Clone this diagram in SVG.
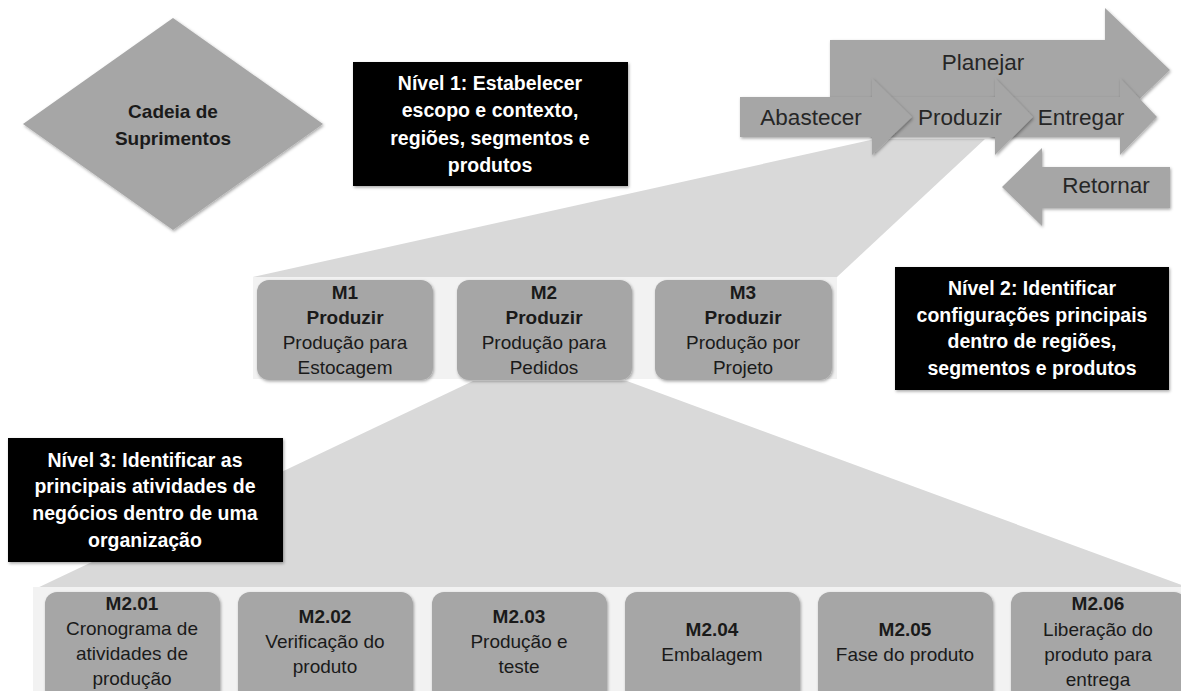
<svg xmlns="http://www.w3.org/2000/svg" width="1181" height="691" viewBox="0 0 1181 691">
<defs>
<filter id="sh" x="-10%" y="-10%" width="120%" height="130%">
<feDropShadow dx="1" dy="1.5" stdDeviation="1.5" flood-color="#000" flood-opacity="0.35"/>
</filter>
</defs>
<style>
.g{fill:#a6a6a6;filter:url(#sh)}
.blk{fill:#000;filter:url(#sh)}
.fun{fill:#d9d9d9}
.band{fill:#f2f2f2}
text{font-family:"Liberation Sans",Arial,sans-serif;text-anchor:middle}
.w{fill:#fff;font-weight:bold;font-size:19.5px}
.b{fill:#1a1a1a;font-weight:bold;font-size:19px}
.r{fill:#1a1a1a;font-size:19px}
.a{fill:#262626;font-size:22.5px}
</style>
<rect width="1181" height="691" fill="#fff"/>
<g id="connectors">
<polygon class="fun" points="875,139 985,139 837,277 253,277"/>
<polygon class="fun" points="473,381 627,381 1195,590 33,590"/>
</g>
<g id="band-level2"><rect class="band" x="253" y="277" width="584" height="102"/></g>
<g id="band-level3"><rect class="band" x="33" y="587" width="1160" height="110"/></g>
<g id="cadeia">
<polygon class="g" points="173,18 323,124 173,230 23,124"/>
<text class="b" x="173" y="118">Cadeia de</text>
<text class="b" x="173" y="145">Suprimentos</text>
</g>
<g id="nivel1">
<rect class="blk" x="353" y="62" width="275" height="124"/>
<text class="w" x="490" y="90">Nível 1: Estabelecer</text>
<text class="w" x="490" y="117">escopo e contexto,</text>
<text class="w" x="490" y="145">regiões, segmentos e</text>
<text class="w" x="490" y="172">produtos</text>
</g>
<g id="planejar">
<polygon class="g" points="830,40 1105,40 1105,8 1170,70 1105,132 1105,100 830,100"/>
<text class="a" x="983" y="70">Planejar</text>
</g>
<g id="entregar">
<polygon class="g" points="990,97 1120,97 1120,78 1157,117 1120,155 1120,137 990,137"/>
<text class="a" x="1081" y="125">Entregar</text>
</g>
<g id="produzir">
<polygon class="g" points="870,97 995,97 995,78 1033,117 995,155 995,137 870,137"/>
<text class="a" x="960" y="125">Produzir</text>
</g>
<g id="abastecer">
<polygon class="g" points="740,97 872,97 872,78 912,117 872,155 872,137 740,137"/>
<text class="a" x="811" y="125">Abastecer</text>
</g>
<g id="retornar">
<polygon class="g" points="1170,167 1042,167 1042,148 1002,187 1042,226 1042,208 1170,208"/>
<text class="a" x="1106" y="193">Retornar</text>
</g>
<g id="m1">
<rect class="g" x="257" y="280" width="176" height="100" rx="12"/>
<text class="b" x="345" y="299">M1</text>
<text class="b" x="345" y="324">Produzir</text>
<text class="r" x="345" y="349">Produção para</text>
<text class="r" x="345" y="374">Estocagem</text>
</g>
<g id="m2">
<rect class="g" x="457" y="280" width="175" height="100" rx="12"/>
<text class="b" x="544" y="299">M2</text>
<text class="b" x="544" y="324">Produzir</text>
<text class="r" x="544" y="349">Produção para</text>
<text class="r" x="544" y="374">Pedidos</text>
</g>
<g id="m3">
<rect class="g" x="655" y="280" width="177" height="100" rx="12"/>
<text class="b" x="743" y="299">M3</text>
<text class="b" x="743" y="324">Produzir</text>
<text class="r" x="743" y="349">Produção por</text>
<text class="r" x="743" y="374">Projeto</text>
</g>
<g id="nivel2">
<rect class="blk" x="895" y="267" width="274" height="123"/>
<text class="w" x="1032" y="295">Nível 2: Identificar</text>
<text class="w" x="1032" y="322">configurações principais</text>
<text class="w" x="1032" y="348">dentro de regiões,</text>
<text class="w" x="1032" y="375">segmentos e produtos</text>
</g>
<g id="nivel3">
<rect class="blk" x="8" y="438" width="275" height="124"/>
<text class="w" x="145" y="467">Nível 3: Identificar as</text>
<text class="w" x="145" y="493">principais atividades de</text>
<text class="w" x="145" y="520">negócios dentro de uma</text>
<text class="w" x="145" y="547">organização</text>
</g>
<g id="m201">
<rect class="g" x="45" y="592" width="175" height="110" rx="12"/>
<text class="b" x="132" y="610">M2.01</text>
<text class="r" x="132" y="635">Cronograma de</text>
<text class="r" x="132" y="660">atividades de</text>
<text class="r" x="132" y="685">produção</text>
</g>
<g id="m202">
<rect class="g" x="238" y="592" width="175" height="110" rx="12"/>
<text class="b" x="325" y="623">M2.02</text>
<text class="r" x="325" y="648">Verificação do</text>
<text class="r" x="325" y="673">produto</text>
</g>
<g id="m203">
<rect class="g" x="432" y="592" width="175" height="110" rx="12"/>
<text class="b" x="519" y="623">M2.03</text>
<text class="r" x="519" y="648">Produção e</text>
<text class="r" x="519" y="673">teste</text>
</g>
<g id="m204">
<rect class="g" x="625" y="592" width="175" height="110" rx="12"/>
<text class="b" x="712" y="636">M2.04</text>
<text class="r" x="712" y="661">Embalagem</text>
</g>
<g id="m205">
<rect class="g" x="818" y="592" width="175" height="110" rx="12"/>
<text class="b" x="905" y="636">M2.05</text>
<text class="r" x="905" y="661">Fase do produto</text>
</g>
<g id="m206">
<rect class="g" x="1011" y="592" width="175" height="110" rx="12"/>
<text class="b" x="1098" y="610">M2.06</text>
<text class="r" x="1098" y="636">Liberação do</text>
<text class="r" x="1098" y="661">produto para</text>
<text class="r" x="1098" y="686">entrega</text>
</g>
</svg>
